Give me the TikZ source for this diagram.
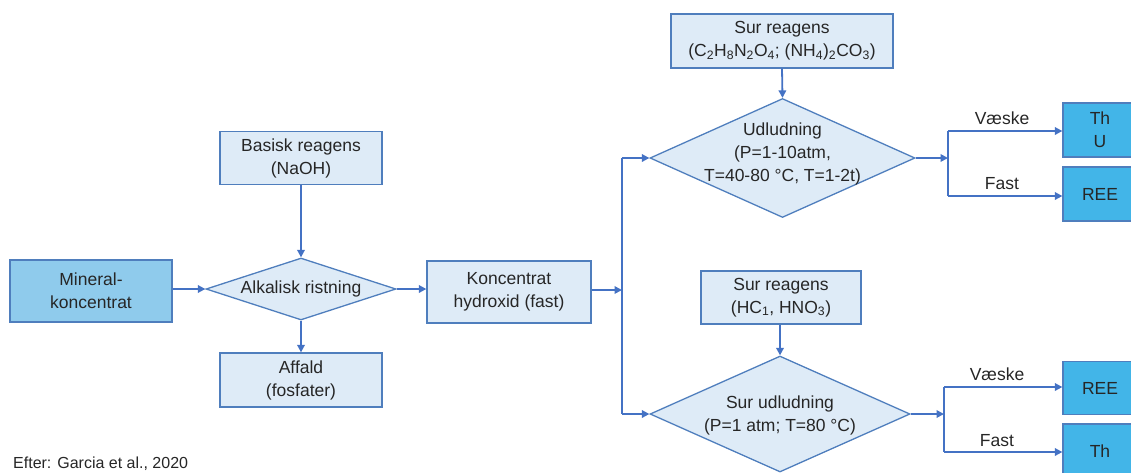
\documentclass[tikz,border=0pt]{standalone}
\usepackage{fontspec}
\setmainfont{Liberation Sans}
\usetikzlibrary{shapes.geometric,arrows.meta}
\definecolor{lineblue}{HTML}{4472C4}
\definecolor{edgeblue}{HTML}{4F7EBD}
\definecolor{lightfill}{HTML}{DEEBF7}
\definecolor{midfill}{HTML}{8FCBEC}
\definecolor{brightfill}{HTML}{42B5E8}
\definecolor{txt}{HTML}{262626}
\begin{document}
\begin{tikzpicture}[x=1pt,y=-1pt,
  every node/.style={text=txt,font=\fontsize{17.5}{23}\selectfont,align=center},
  box/.style={draw=edgeblue,line width=1.3pt,fill=lightfill,inner sep=0pt},
  minbox/.style={box,fill=midfill},
  endbox/.style={box,fill=brightfill},
  dia/.style={diamond,draw=edgeblue,line width=1.3pt,fill=lightfill,inner sep=0pt},
  lbl/.style={inner sep=0pt},
  arr/.style={draw=lineblue,line width=1.8pt,-{Triangle[length=7.5pt,width=7.5pt]}},
  ln/.style={draw=lineblue,line width=1.8pt}]
\useasboundingbox (0,0) rectangle (1131,472);
\begin{scope}
\clip (0,0) rectangle (1131,472);
% nodes
\node[minbox,minimum width=162pt,minimum height=62pt] (min) at (91,291) {Mineral-\\koncentrat};
\node[dia,minimum width=190pt,minimum height=62pt] (alk) at (301,289) {};
\node[lbl] (alkt) at (301,289) {Alkalisk ristning};
\node[box,minimum width=162pt,minimum height=53pt] (bas) at (301,158) {Basisk reagens\\(NaOH)};
\node[box,minimum width=162pt,minimum height=54pt] (aff) at (301,380) {Affald\\(fosfater)};
\node[box,minimum width=164pt,minimum height=62pt] (konc) at (509,292) {Koncentrat\\hydroxid (fast)};
\node[box,minimum width=222pt,minimum height=54pt] (sur1) at (782,41) {Sur reagens\\(C\textsubscript{2}H\textsubscript{8}N\textsubscript{2}O\textsubscript{4}; (NH\textsubscript{4})\textsubscript{2}CO\textsubscript{3})};
\node[dia,minimum width=265pt,minimum height=119pt] (udl) at (782.5,158) {};
\node[lbl] (udlt) at (782.5,154) {Udludning\\(P=1-10atm,\\T=40-80 °C, T=1-2t)};
\node[box,minimum width=160pt,minimum height=53pt] (sur2) at (781,297.5) {Sur reagens\\(HC\textsubscript{1}, HNO\textsubscript{3})};
\node[dia,minimum width=260pt,minimum height=116pt] (sud) at (780,414) {};
\node[lbl] (sudt) at (780,415) {Sur udludning\\(P=1 atm; T=80 °C)};
\node[endbox,minimum width=74pt,minimum height=54pt] (thu) at (1100,130) {Th\\U};
\node[endbox,minimum width=74pt,minimum height=54pt] (ree1) at (1100,194) {REE};
\node[endbox,minimum width=74pt,minimum height=53pt] (ree2) at (1100,388) {REE};
\node[endbox,minimum width=74pt,minimum height=54pt] (th2) at (1100,451) {Th};
% labels
\node[lbl] (v1) at (1002,118) {Væske};
\node[lbl] (f1) at (1002,184) {Fast};
\node[lbl] (v2) at (997,374) {Væske};
\node[lbl] (f2) at (997,441) {Fast};
\node[lbl,anchor=base west,font=\fontsize{16}{19}\selectfont] (src) at (13,468) {Efter: Garcia et al., 2020};
% coordinates
\coordinate (j1) at (622,290);
\coordinate (j1t) at (622,158);
\coordinate (j1b) at (622,414);
\coordinate (j2) at (948,158);
\coordinate (j2t) at (948,131);
\coordinate (j2b) at (948,196);
\coordinate (j3) at (944,414);
\coordinate (j3t) at (944,387);
\coordinate (j3b) at (944,452);
% connectors
\draw[arr] (min.east |- alk.west) -- (alk.west);
\draw[arr] (bas.south) -- (alk.north);
\draw[arr] (alk.south) -- (aff.north);
\draw[arr] (alk.east) -- (alk.east -| konc.west);
\draw[arr] (konc.east |- j1) -- (j1);
\draw[ln] (j1t) -- (j1b);
\draw[arr] (j1t) -- (udl.west);
\draw[arr] (j1b) -- (sud.west);
\draw[arr] (sur1.south) -- (udl.north);
\draw[arr] (sur2.south -| sud.north) -- (sud.north);
\draw[arr] (udl.east) -- (j2);
\draw[ln] (j2t) -- (j2b);
\draw[arr] (j2t) -- (j2t -| thu.west);
\draw[arr] (j2b) -- (j2b -| ree1.west);
\draw[arr] (sud.east) -- (j3);
\draw[ln] (j3t) -- (j3b);
\draw[arr] (j3t) -- (j3t -| ree2.west);
\draw[arr] (j3b) -- (j3b -| th2.west);
\end{scope}
\end{tikzpicture}
\end{document}
